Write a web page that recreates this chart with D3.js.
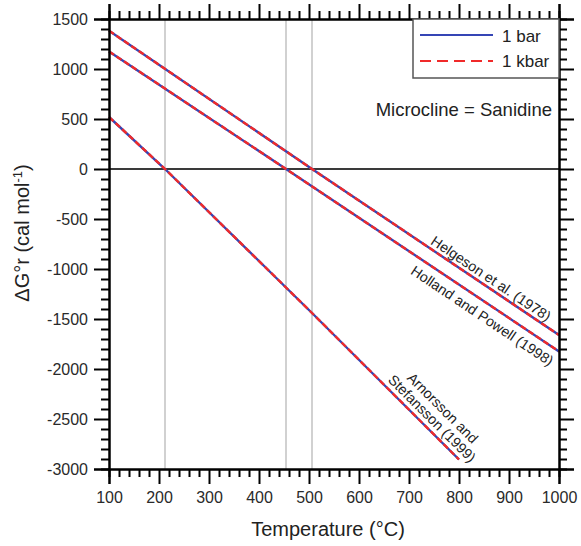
<!DOCTYPE html>
<html>
<head>
<meta charset="utf-8">
<script src="https://cdn.jsdelivr.net/npm/d3@7"></script>
<style>
  html, body { margin: 0; padding: 0; background: #fff; }
  svg { display: block; font-family: "Liberation Sans", Arial, sans-serif; }
</style>
</head>
<body>
<svg id="chart" width="581" height="546"></svg>
<script>
// ---- data ----
const tempTicks = [100, 200, 300, 400, 500, 600, 700, 800, 900, 1000];
const dgTicks = [-3000, -2500, -2000, -1500, -1000, -500, 0, 500, 1000, 1500];
const seriesNames = ["Helgeson et al. (1978)", "Holland and Powell (1998)", "Arnorsson and Stefansson (1999)"];
const legendLabels = ["1 bar", "1 kbar"];

const helgesonT = [100, 506, 1000];
const helgesonG_1bar = [1383, 0, -1660];
const helgesonG_1kbar = [1383, 0, -1660];

const hollandT = [100, 454, 1000];
const hollandG_1bar = [1176, 0, -1824];
const hollandG_1kbar = [1176, 0, -1824];

const arnorssonT = [100, 212, 455, 506, 800];
const arnorssonG_1bar = [520, 0, -1190, -1440, -2905];
const arnorssonG_1kbar = [520, 0, -1190, -1440, -2905];

const crossingT = [212, 454, 506];
const annotation = "Microcline = Sanidine";

// ---- setup ----
const svg = d3.select("#chart");
const x = d3.scaleLinear().domain([100, 1000]).range([109, 559]);
const y = d3.scaleLinear().domain([-3000, 1500]).range([469, 19]);
const blue = "#3545b5", red = "#f02a2a";

const zip = (T, G) => T.map((t, i) => [t, G[i]]);
const line = d3.line().x(d => x(d[0])).y(d => y(d[1]));

// reference lines
svg.append("g").selectAll("line").data(crossingT).join("line")
  .attr("x1", d => x(d)).attr("x2", d => x(d))
  .attr("y1", y(1500)).attr("y2", y(-3000))
  .attr("stroke", "#b8b8b8").attr("stroke-width", 1.3);
svg.append("line")
  .attr("x1", x(100)).attr("x2", x(1000)).attr("y1", y(0)).attr("y2", y(0))
  .attr("stroke", "#3a3a3a").attr("stroke-width", 1.8);

// series
const series = [
  [zip(helgesonT, helgesonG_1bar), zip(helgesonT, helgesonG_1kbar)],
  [zip(hollandT, hollandG_1bar), zip(hollandT, hollandG_1kbar)],
  [zip(arnorssonT, arnorssonG_1bar), zip(arnorssonT, arnorssonG_1kbar)]
];
const gLines = svg.append("g");
series.forEach(([b, k]) => {
  gLines.append("path").attr("d", line(b)).attr("fill", "none")
    .attr("stroke", blue).attr("stroke-width", 2.4);
  gLines.append("path").attr("d", line(k)).attr("fill", "none")
    .attr("stroke", red).attr("stroke-width", 2.4).attr("stroke-dasharray", "6,3");
});

// line labels
function angleOf(pts) {
  const a = pts[pts.length - 2], b = pts[pts.length - 1];
  return Math.atan2(y(b[1]) - y(a[1]), x(b[0]) - x(a[0])) * 180 / Math.PI;
}
function pointAt(T, pts) {
  const ts = pts.map(p => p[0]), gs = pts.map(p => p[1]);
  const s = d3.scaleLinear().domain(ts).range(gs);
  return [x(T), y(s(T))];
}
const labelSpecs = [
  { idx: 0, T: 854, lines: [seriesNames[0]], offs: [-9] },
  { idx: 1, T: 861, lines: [seriesNames[1]], offs: [13] },
  { idx: 2, T: 732, lines: ["Arnorsson and", "Stefansson (1999)"], offs: [-25, -10] }
];
labelSpecs.forEach(sp => {
  const pts = series[sp.idx][0];
  const [px, py] = pointAt(sp.T, pts);
  const ang = angleOf(pts);
  const g = svg.append("g").attr("transform", `translate(${px},${py}) rotate(${ang})`);
  sp.lines.forEach((t, i) => {
    g.append("text").attr("x", 0).attr("y", sp.offs[i])
      .attr("text-anchor", "middle").attr("dominant-baseline", "central")
      .attr("font-size", 14.3).attr("fill", "#222").text(t);
  });
});

// axes
function styleAxis(g) {
  g.select(".domain").attr("stroke", "#000").attr("stroke-width", 2);
  g.selectAll(".tick line").attr("stroke", "#000").attr("stroke-width", 2);
  g.selectAll(".tick text").attr("fill", "#2a2a2a").attr("font-size", 16)
    .attr("font-family", "Liberation Sans, Arial, sans-serif");
}
const fmt = d => String(d);
const minorT = d3.range(100, 1001, 20).filter(v => !tempTicks.includes(v));
const minorG = d3.range(-3000, 1501, 100).filter(v => !dgTicks.includes(v));

// bottom
svg.append("g").attr("transform", `translate(0,${y(-3000)})`)
  .call(d3.axisBottom(x).tickValues(minorT).tickSize(8).tickFormat("")).call(styleAxis);
svg.append("g").attr("transform", `translate(0,${y(-3000)})`)
  .call(d3.axisBottom(x).tickValues(tempTicks).tickSize(15).tickPadding(8).tickFormat(fmt)).call(styleAxis);
// top
svg.append("g").attr("transform", `translate(0,${y(1500)})`)
  .call(d3.axisTop(x).tickValues(minorT).tickSize(8).tickFormat("")).call(styleAxis);
svg.append("g").attr("transform", `translate(0,${y(1500)})`)
  .call(d3.axisTop(x).tickValues(tempTicks).tickSize(15).tickFormat("")).call(styleAxis);
// left
svg.append("g").attr("transform", `translate(${x(100)},0)`)
  .call(d3.axisLeft(y).tickValues(minorG).tickSize(8).tickFormat("")).call(styleAxis);
svg.append("g").attr("transform", `translate(${x(100)},0)`)
  .call(d3.axisLeft(y).tickValues(dgTicks).tickSize(15).tickPadding(6).tickFormat(fmt)).call(styleAxis);
// right
svg.append("g").attr("transform", `translate(${x(1000)},0)`)
  .call(d3.axisRight(y).tickValues(minorG).tickSize(8).tickFormat("")).call(styleAxis);
svg.append("g").attr("transform", `translate(${x(1000)},0)`)
  .call(d3.axisRight(y).tickValues(dgTicks).tickSize(15).tickFormat("")).call(styleAxis);

// legend
const lg = svg.append("g");
lg.append("rect").attr("x", 413).attr("y", y(1500)).attr("width", x(1000) - 413).attr("height", 59)
  .attr("fill", "#fff").attr("stroke", "#555").attr("stroke-width", 1.5);
lg.append("line").attr("x1", 420).attr("x2", 493).attr("y1", 35).attr("y2", 35)
  .attr("stroke", blue).attr("stroke-width", 2.2);
lg.append("line").attr("x1", 420).attr("x2", 493).attr("y1", 61).attr("y2", 61)
  .attr("stroke", red).attr("stroke-width", 2.2).attr("stroke-dasharray", "11,6");
lg.append("text").attr("x", 502).attr("y", 41.5).attr("font-size", 17).attr("fill", "#222").text(legendLabels[0]);
lg.append("text").attr("x", 502).attr("y", 66.5).attr("font-size", 17).attr("fill", "#222").text(legendLabels[1]);

// annotation
svg.append("text").attr("x", 552).attr("y", 115.5).attr("text-anchor", "end")
  .attr("font-size", 18.5).attr("fill", "#222").text(annotation);

// axis titles
svg.append("text").attr("x", 328).attr("y", 536).attr("text-anchor", "middle")
  .attr("font-size", 20).attr("fill", "#222").text("Temperature (°C)");
const yl = svg.append("text").attr("transform", "translate(29,233) rotate(-90)")
  .attr("text-anchor", "middle").attr("font-size", 20).attr("fill", "#222");
yl.append("tspan").text("ΔG°r (cal mol");
yl.append("tspan").attr("dy", -7).attr("font-size", 13).text("-1");
yl.append("tspan").attr("dy", 7).text(")");
</script>
</body>
</html>
